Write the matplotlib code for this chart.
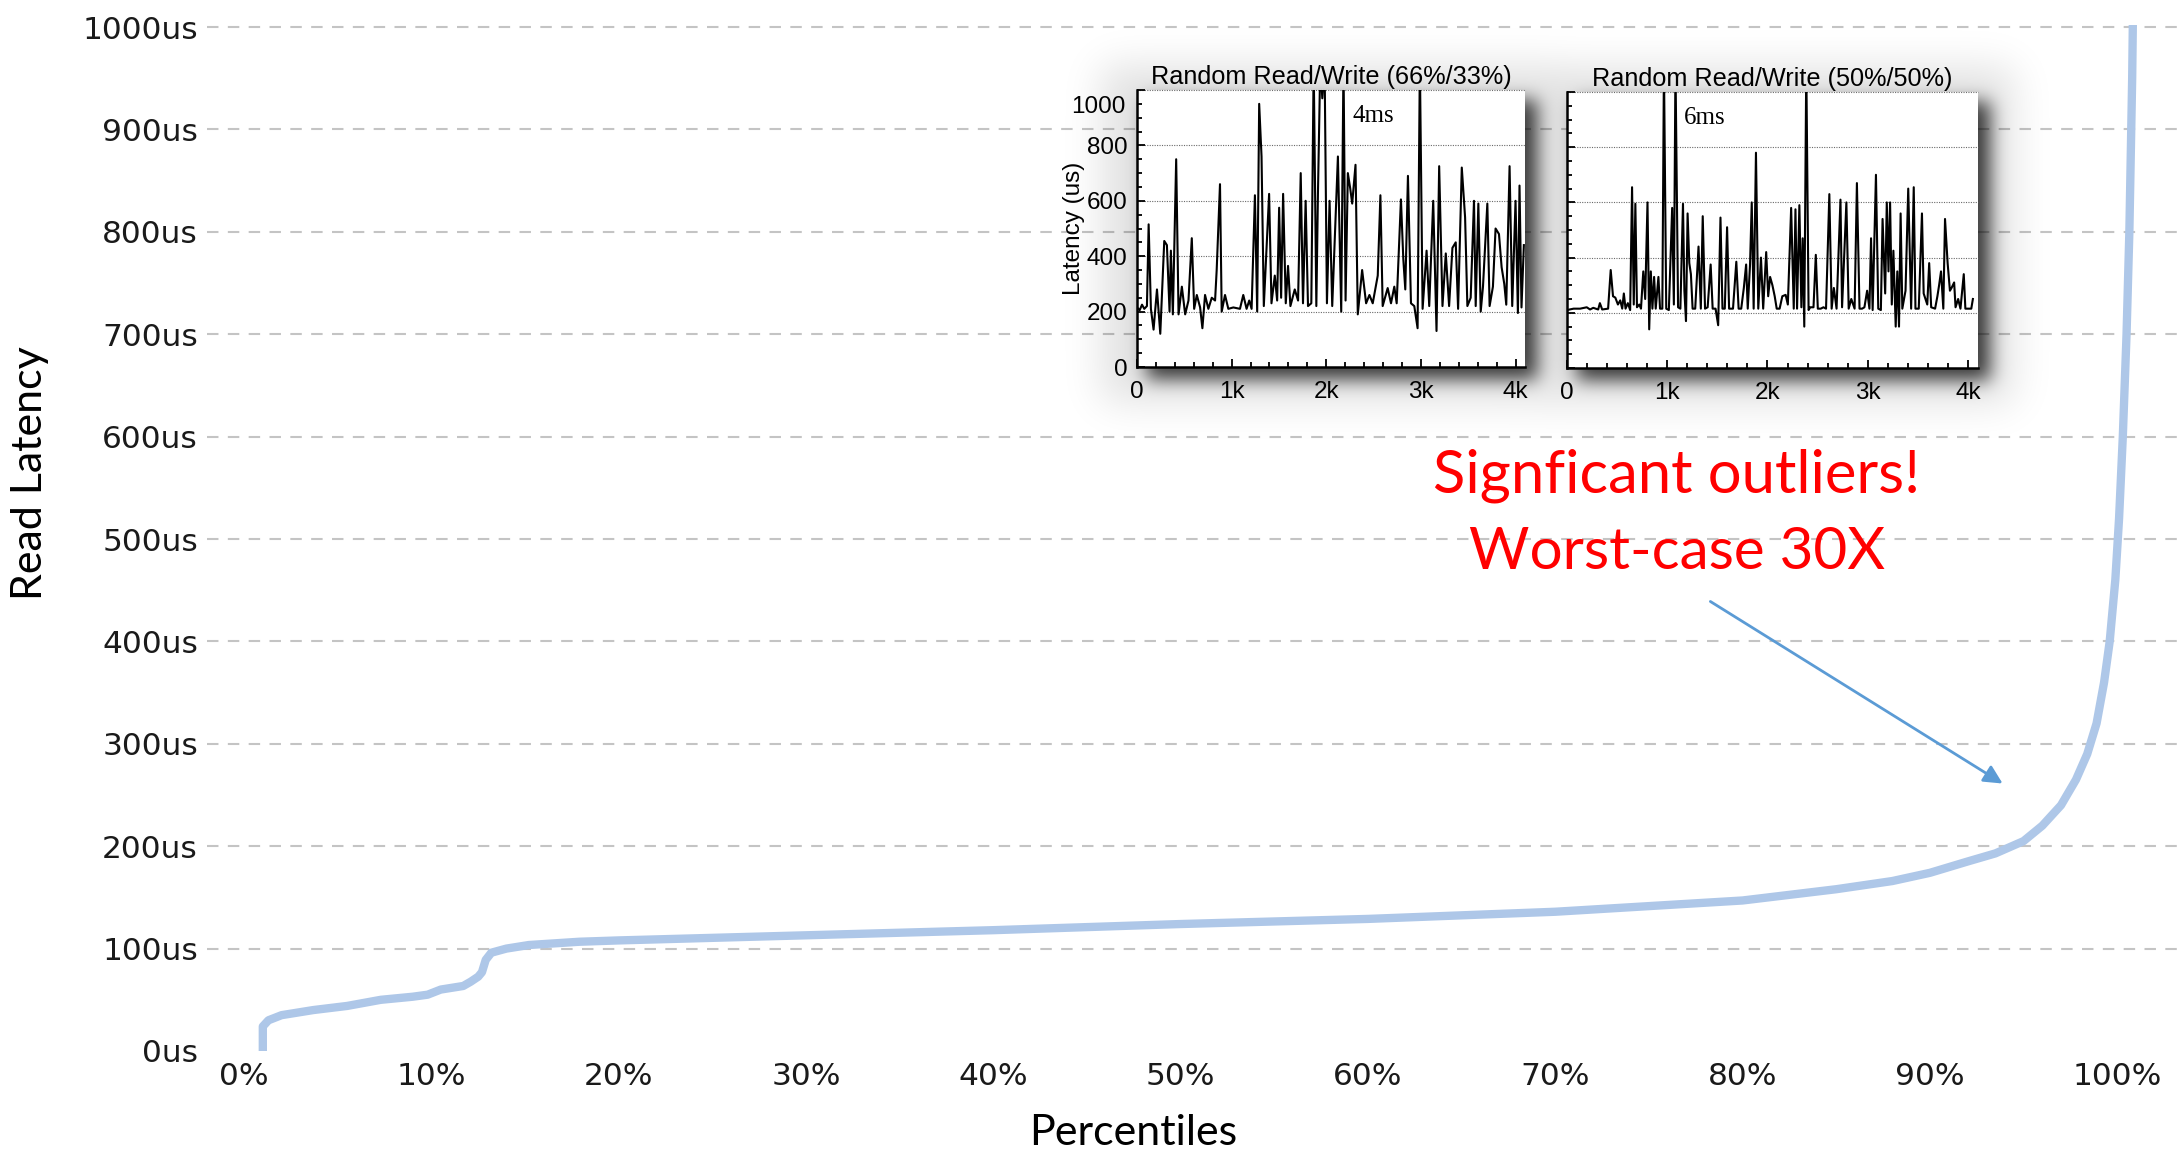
import numpy as np
import matplotlib
matplotlib.use("Agg")
import matplotlib.pyplot as plt
from matplotlib.ticker import MultipleLocator

# main curve: read latency (us) vs percentile
pct = [1.0, 1.0, 1.3, 2.0, 3.7, 5.5, 7.3, 9.0, 9.8, 10.5, 11.7, 12.1, 12.5, 12.7,
       12.9, 13.2, 14.0, 15.2, 17.9, 20, 30, 40, 50, 60, 70, 80, 85, 88, 90, 92,
       93.5, 95, 96, 97, 97.8, 98.4, 98.9, 99.3, 99.6, 99.9, 100.1, 100.3, 100.5,
       100.65, 100.8, 100.9]
lat = [0, 24, 30, 35, 40, 44, 50, 53, 55, 60, 63.5, 67.7, 72.6, 77,
       89, 96, 100, 103.5, 106.7, 108, 113, 118, 124, 129, 136, 147, 158, 166, 174, 185,
       193, 205, 220, 240, 265, 290, 320, 360, 400, 460, 520, 600, 700,
       800, 950, 1100]

y_ticks = list(range(0, 1001, 100))
y_labels = [str(v) + "us" for v in y_ticks]
x_ticks = list(range(0, 101, 10))
x_labels = [str(v) + "%" for v in x_ticks]

# inset traces (request index, latency us)
rw66_x = [0, 28, 53, 77, 105, 123, 147, 175, 211, 246,
          288, 316, 344, 358, 379, 414, 439, 474, 509, 544,
          579, 604, 632, 667, 691, 719, 754, 790, 825, 842,
          877, 895, 930, 965, 1018, 1088, 1123, 1158, 1186, 1211,
          1246, 1270, 1291, 1316, 1340, 1396, 1421, 1456, 1481, 1502,
          1523, 1544, 1572, 1596, 1621, 1667, 1702, 1730, 1754, 1782,
          1807, 1842, 1867, 1895, 1912, 1937, 1958, 1982, 2007, 2035,
          2063, 2123, 2158, 2182, 2204, 2228, 2253, 2274, 2309, 2333,
          2379, 2421, 2456, 2491, 2544, 2572, 2596, 2649, 2684, 2719,
          2744, 2789, 2814, 2835, 2863, 2895, 2930, 2965, 2989, 3018,
          3060, 3088, 3130, 3165, 3193, 3228, 3263, 3298, 3333, 3368,
          3393, 3432, 3467, 3491, 3526, 3561, 3579, 3607, 3632, 3656,
          3702, 3726, 3761, 3789, 3825, 3853, 3881, 3902, 3937, 3965,
          4000, 4025, 4042, 4063, 4088]
rw66_y = [215, 205, 225, 210, 220, 515, 210, 135, 280, 120,
          455, 440, 200, 420, 190, 750, 190, 290, 190, 240,
          465, 210, 260, 215, 140, 260, 210, 250, 240, 350,
          660, 200, 260, 210, 215, 210, 260, 210, 240, 210,
          620, 200, 950, 760, 220, 625, 230, 330, 240, 575,
          250, 625, 230, 365, 220, 280, 240, 700, 230, 600,
          220, 230, 1100, 220, 625, 1100, 970, 1100, 230, 600,
          220, 760, 200, 1100, 240, 700, 645, 590, 730, 190,
          350, 230, 260, 230, 330, 620, 220, 285, 230, 290,
          230, 605, 390, 280, 690, 230, 220, 140, 1100, 210,
          420, 220, 600, 130, 725, 220, 410, 220, 430, 450,
          210, 720, 540, 220, 250, 600, 220, 590, 200, 290,
          590, 220, 290, 500, 480, 360, 300, 225, 725, 220,
          600, 195, 655, 215, 440]

rw50_x = [0, 66, 131, 197, 230, 262, 311, 328, 351, 410,
          436, 459, 482, 508, 531, 551, 567, 584, 607, 630,
          649, 666, 682, 698, 721, 738, 761, 780, 803, 820,
          836, 852, 869, 885, 912, 928, 951, 967, 990, 1016,
          1049, 1066, 1082, 1108, 1131, 1157, 1171, 1187, 1203, 1220,
          1236, 1253, 1279, 1312, 1335, 1354, 1377, 1403, 1433, 1453,
          1482, 1508, 1531, 1551, 1574, 1597, 1617, 1656, 1689, 1712,
          1738, 1764, 1787, 1803, 1826, 1843, 1862, 1885, 1908, 1935,
          1957, 1987, 2007, 2026, 2049, 2072, 2092, 2121, 2148, 2181,
          2203, 2236, 2262, 2279, 2295, 2318, 2338, 2351, 2367, 2387,
          2410, 2426, 2459, 2482, 2502, 2531, 2558, 2584, 2617, 2640,
          2662, 2689, 2728, 2744, 2787, 2810, 2836, 2869, 2892, 2918,
          2944, 2967, 2994, 3017, 3033, 3049, 3082, 3105, 3131, 3148,
          3174, 3190, 3207, 3223, 3240, 3256, 3279, 3295, 3312, 3328,
          3345, 3377, 3404, 3433, 3459, 3476, 3509, 3541, 3558, 3594,
          3613, 3633, 3672, 3695, 3712, 3731, 3754, 3771, 3797, 3820,
          3836, 3862, 3876, 3902, 3925, 3958, 3974, 4000, 4033, 4049]
rw50_y = [210, 215, 215, 220, 212, 218, 212, 235, 212, 215,
          355, 260, 255, 230, 245, 215, 270, 215, 235, 210,
          655, 230, 595, 220, 230, 215, 350, 250, 600, 140,
          350, 215, 330, 215, 330, 215, 215, 1100, 215, 210,
          580, 230, 1100, 220, 215, 595, 280, 170, 560, 380,
          340, 215, 215, 440, 215, 550, 215, 220, 375, 215,
          215, 155, 545, 215, 215, 510, 215, 215, 385, 215,
          215, 290, 375, 215, 375, 600, 215, 780, 215, 400,
          215, 420, 260, 330, 300, 260, 215, 215, 260, 265,
          230, 580, 215, 575, 215, 590, 220, 470, 150, 1100,
          210, 220, 220, 410, 215, 215, 220, 215, 630, 215,
          290, 215, 610, 220, 600, 215, 250, 215, 670, 215,
          215, 220, 280, 215, 470, 210, 700, 215, 210, 540,
          270, 600, 350, 600, 230, 425, 150, 350, 150, 560,
          215, 280, 650, 215, 655, 215, 215, 560, 270, 230,
          380, 220, 215, 260, 300, 350, 215, 540, 380, 280,
          290, 310, 220, 250, 215, 340, 215, 215, 215, 250]

inset_y_ticks = [0, 200, 400, 600, 800, 1000]
inset_x_ticks = [0, 1000, 2000, 3000, 4000]
inset_x_labels = ["0", "1k", "2k", "3k", "4k"]

W, H = 2179, 1152
fig = plt.figure(figsize=(W / 100, H / 100), dpi=100)


def box(x0, y0, x1, y1):
    # pixel box measured from the top-left corner -> figure fraction
    return [x0 / W, 1 - y1 / H, (x1 - x0) / W, (y1 - y0) / H]


ax = fig.add_axes(box(207, 25, 2179, 1051), zorder=0)
ax.plot(pct, lat, color="#aec7e8", lw=6, solid_joinstyle="round", zorder=3)
ax.set_xlim(-1.98, 103.3)
ax.set_ylim(0, 1002)
for v in y_ticks[1:]:
    ax.axhline(v, color="#c4c4c4", lw=1.5, dashes=(5.5, 4.5), zorder=1)
ax.set_yticks(y_ticks)
ax.set_yticklabels(y_labels)
ax.set_xticks(x_ticks)
ax.set_xticklabels(x_labels)
ax.tick_params(length=0, labelsize=22.5, colors="#1a1a1a")
ax.tick_params(axis="y", pad=6.5)
ax.tick_params(axis="x", pad=8)
for s in ax.spines.values():
    s.set_visible(False)

calibri = ["Lato", "DejaVu Sans"]
fig.text(30 / W, 1 - 473 / H, "Read Latency", rotation=90, ha="center", va="center",
         fontsize=31, family=calibri)
fig.text(1133 / W, 1 - 1133 / H, "Percentiles", ha="center", va="center",
         fontsize=31, family=calibri)
fig.text(1677 / W, 1 - 476 / H, "Signficant outliers!", ha="center", va="center",
         fontsize=43, color="red", family=calibri, zorder=5)
fig.text(1677 / W, 1 - 552 / H, "Worst-case 30X", ha="center", va="center",
         fontsize=42, color="red", family=calibri, zorder=5)
ax.annotate("", xy=(2005, H - 785), xycoords="figure pixels",
            xytext=(1708, H - 600), textcoords="figure pixels",
            arrowprops=dict(arrowstyle="-|>", color="#5b9bd5", lw=2, mutation_scale=28))

# soft drop shadow behind the pasted inset plots
plots = [(1137, 90, 1525, 367), (1567, 92, 1978, 368)]
ox, oy, sw, sh = 1000, 0, 1150, 480


def blur(a, s):
    t = np.arange(-3 * s, 3 * s + 1)
    k = np.exp(-t ** 2 / (2.0 * s * s))
    k /= k.sum()
    a = np.apply_along_axis(lambda r: np.convolve(r, k, mode="same"), 1, a)
    return np.apply_along_axis(lambda c: np.convolve(c, k, mode="same"), 0, a)


dark = np.zeros((sh, sw))
halo = np.zeros((sh, sw))
for x0, y0, x1, y1 in plots:
    dark[y0 - oy + 10:y1 - oy + 12, x0 - ox + 10:x1 - ox + 12] = 1
    halo[y0 - oy - 25:y1 - oy + 35, x0 - ox - 35:x1 - ox + 35] = 1
alpha = 1 - (1 - 0.75 * blur(dark, 9)) * (1 - 0.12 * blur(halo, 20))
rgba = np.zeros((sh, sw, 4))
rgba[..., 3] = np.clip(alpha, 0, 1)
fig.figimage(rgba, xo=ox, yo=H - oy - sh, origin="upper", zorder=1)

serif = ["Liberation Serif", "DejaVu Serif"]
arial = ["Liberation Sans", "DejaVu Sans"]


def inset(rect, xs, ys, title, note, note_x, first):
    a = fig.add_axes(box(*rect), zorder=2)
    a.set_facecolor("white")
    a.plot(xs, ys, color="black", lw=1.5)
    a.set_xlim(0, 4100)
    a.set_ylim(0, 1000)
    for v in inset_y_ticks[1:]:
        a.axhline(v, color="#6a6a6a", lw=0.8, ls=(0, (1, 1.2)), clip_on=False, zorder=0)
    a.spines["top"].set_visible(False)
    a.spines["right"].set_visible(False)
    a.spines["left"].set_linewidth(1.8)
    a.spines["bottom"].set_linewidth(1.8)
    a.set_xticks(inset_x_ticks)
    a.set_xticklabels(inset_x_labels, family=arial)
    a.set_yticks(inset_y_ticks)
    a.xaxis.set_minor_locator(MultipleLocator(200))
    a.yaxis.set_minor_locator(MultipleLocator(50))
    a.tick_params(which="both", direction="in", labelsize=17.5, width=1.3)
    a.tick_params(axis="x", pad=10)
    a.tick_params(axis="y", pad=7)
    a.tick_params(which="major", length=6)
    a.tick_params(which="minor", length=3.5)
    if first:
        a.set_yticklabels(["0", "200", "400", "600", "800", ""], family=arial)
        a.text(-0.03, 940, "1000", transform=a.get_yaxis_transform(), ha="right",
               va="center", fontsize=17.5, family=arial)
        a.set_ylabel("Latency (us)", fontsize=17.5, family=arial, labelpad=1)
    else:
        a.set_yticklabels([])
    a.set_title(title, fontsize=18.2, family=arial, pad=4)
    a.text(note_x, 905, note, fontsize=18, family=serif, ha="center", va="center")
    return a


inset(plots[0], rw66_x, rw66_y, "Random Read/Write (66%/33%)", "4ms", 2494, True)
inset(plots[1], rw50_x, rw50_y, "Random Read/Write (50%/50%)", "6ms", 1377, False)

fig.savefig("out.png", dpi=100)
